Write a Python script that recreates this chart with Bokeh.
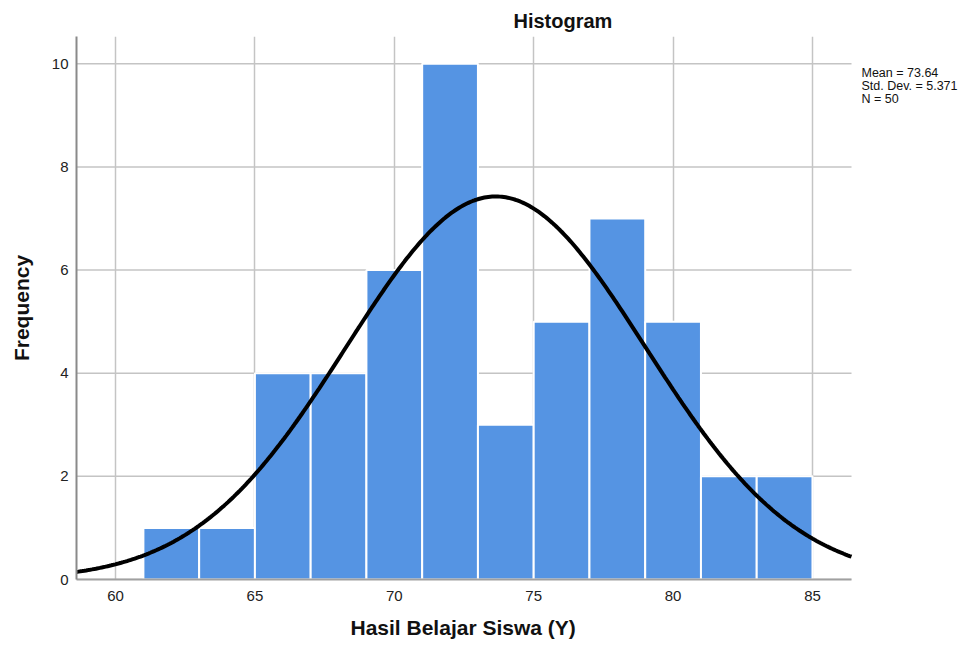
import numpy as np
from bokeh.plotting import figure
from bokeh.models import Range1d, Label, FixedTicker, ColumnDataSource, Title
from bokeh.embed import file_html
from bokeh.resources import INLINE

# ---- data ----
bin_left = [61, 63, 65, 67, 69, 71, 73, 75, 77, 79, 81, 83]
bin_right = [63, 65, 67, 69, 71, 73, 75, 77, 79, 81, 83, 85]
counts = [1, 1, 4, 4, 6, 10, 3, 5, 7, 5, 2, 2]
mean_val = 73.64
std_val = 5.371
n_val = 50
bin_width = 2
x_ticks = [60, 65, 70, 75, 80, 85]
y_ticks = [0, 2, 4, 6, 8, 10]
stats_lines = ["Mean = 73.64", "Std. Dev. = 5.371", "N = 50"]

FONT = "Liberation Sans"
W, H = 974, 650
FL, FT, FB = 76, 36, 579          # frame left/top/bottom (px)
DATA_R = 851                       # right end of the data area (px)
X0, XD = 58.6, 86.4                # data-area x extent
Y0, Y1 = 0, 10.53
ppu_x = (DATA_R - FL) / (XD - X0)
X1 = X0 + (W - FL) / ppu_x         # frame extends to the right edge for the stats text

p = figure(width=W, height=H, output_backend="svg", toolbar_location=None,
           x_range=Range1d(X0, X1), y_range=Range1d(Y0, Y1),
           min_border_left=FL, min_border_right=0, min_border_top=FT,
           min_border_bottom=H - FB)
p.outline_line_color = None
p.background_fill_color = "white"
p.border_fill_color = "white"

def dx(px):
    return X0 + (px - FL) / ppu_x
def dy(py):
    return Y0 + (FB - py) * (Y1 - Y0) / (FB - FT)

# horizontal grid lines limited to the data area
p.segment(x0=[X0] * len(y_ticks), x1=[XD] * len(y_ticks), y0=y_ticks, y1=y_ticks,
          line_color="#c4c4c4", line_width=1.5)

src = ColumnDataSource(dict(left=bin_left, right=bin_right, top=counts,
                            bottom=[0] * len(counts)))
p.quad(left="left", right="right", top="top", bottom="bottom", source=src,
       fill_color="#5594E3", line_color="white", line_width=2)

# normal curve from the stated statistics
xs = np.linspace(X0, XD, 400)
ys = n_val * bin_width / (std_val * np.sqrt(2 * np.pi)) * np.exp(-0.5 * ((xs - mean_val) / std_val) ** 2)
p.line(xs, ys, line_color="black", line_width=4)

# axes
for ax in (p.xaxis, p.yaxis):
    ax.major_tick_line_color = None
    ax.minor_tick_line_color = None
    ax.major_tick_out = 0
    ax.major_tick_in = 0
    ax.major_label_text_font = FONT
    ax.major_label_text_font_size = "15px"
    ax.major_label_text_color = "#222222"
    ax.axis_label_text_font = FONT
    ax.axis_label_text_font_size = "21px"
    ax.axis_label_text_font_style = "bold"
    ax.axis_label_text_color = "#111111"
p.xaxis.ticker = FixedTicker(ticks=x_ticks)
p.yaxis.ticker = FixedTicker(ticks=y_ticks)
p.xaxis.bounds = (X0, XD)
p.xaxis.axis_line_color = "#a0a0a0"
p.xaxis.axis_line_width = 2
p.yaxis.axis_line_color = "#8a8a8a"
p.yaxis.axis_line_width = 2
p.xaxis.major_label_standoff = 11
p.yaxis.major_label_standoff = 8
p.yaxis.axis_label = "Frequency"
p.yaxis.axis_label_standoff = 16

p.xgrid.ticker = FixedTicker(ticks=x_ticks)
p.xgrid.grid_line_color = "#c4c4c4"
p.xgrid.grid_line_width = 1.5
p.ygrid.grid_line_color = None

# title
p.title.text = "Histogram"
p.title.text_font = FONT
p.title.text_font_size = "20px"
p.title.text_font_style = "bold"
p.title.text_color = "#111111"
p.title.align = "left"
p.title.offset = 437
p.title.standoff = 9

# x axis title, centred under the data area
p.add_layout(Title(text="Hasil Belajar Siswa (Y)", text_font=FONT, text_font_size="21px",
                   text_font_style="bold", text_color="#111111", align="left",
                   offset=274, vertical_align="bottom", standoff=21), "below")

# stats
for i, s in enumerate(stats_lines):
    p.add_layout(Label(x=dx(861), y=dy(72.2 + 13.3 * i), text=s, text_font=FONT,
                       text_font_size="12.5px", text_align="left",
                       text_baseline="middle", text_color="#111111"))

open("out.html", "w").write(file_html(p, INLINE))
